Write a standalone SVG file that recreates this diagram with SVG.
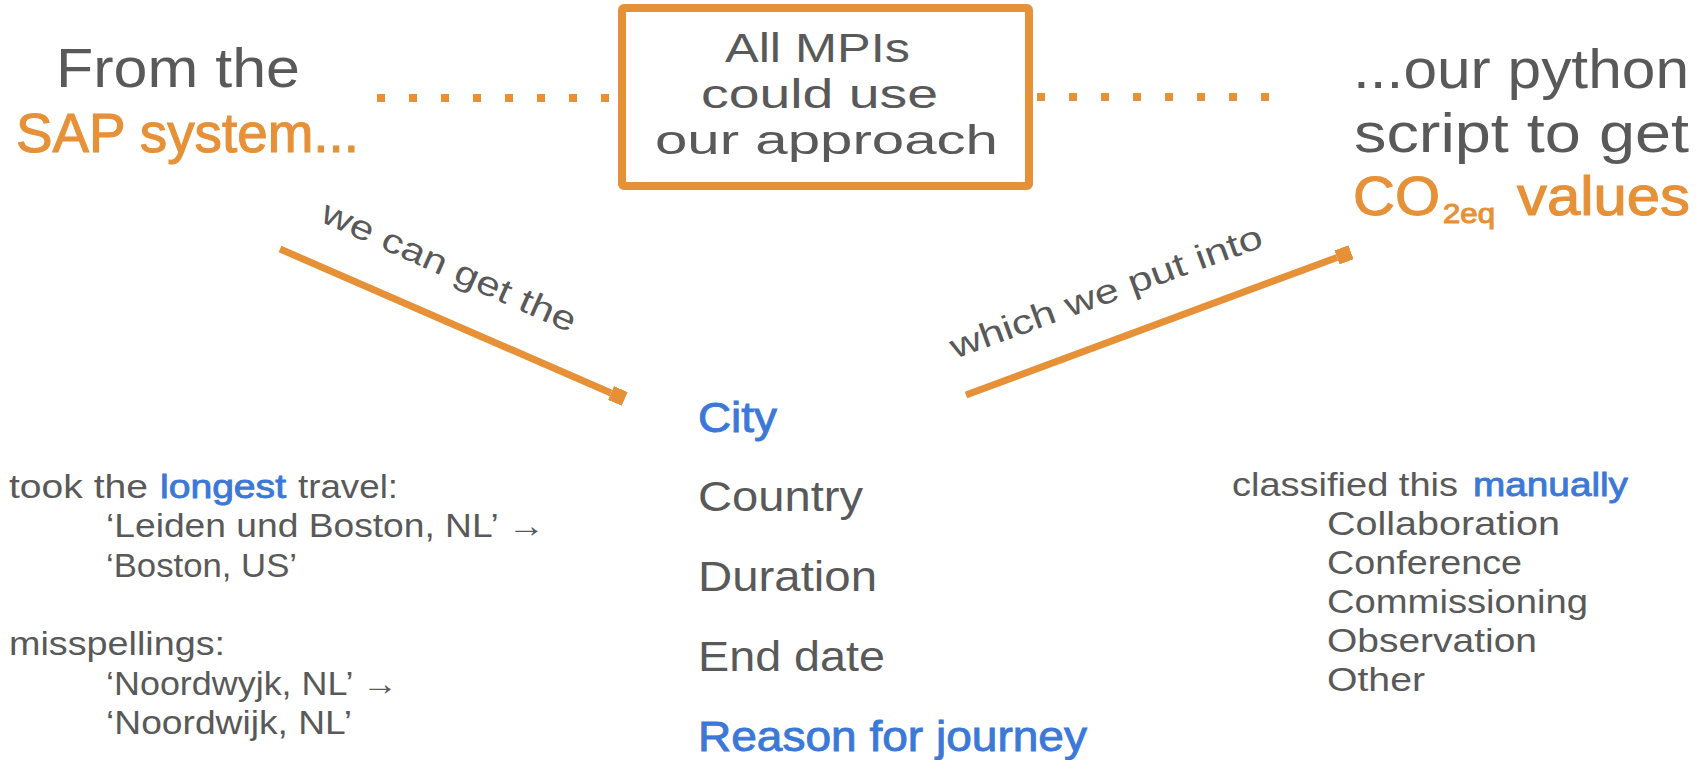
<svg xmlns="http://www.w3.org/2000/svg" width="1705" height="760" viewBox="0 0 1705 760">
  <style>
    text { font-family: "Liberation Sans", Arial, sans-serif; fill: #595959; }
    .big { font-size: 55px; }
    .box { font-size: 41px; }
    .lst { font-size: 42px; }
    .sm { font-size: 34px; }
    .lbl { font-size: 34px; }
    .or { fill: #E69138; stroke: #E69138; stroke-width: 1.1px; }
    .bl { fill: #3C78D8; stroke: #3C78D8; stroke-width: 0.9px; }
    .conn { stroke: #E69138; stroke-width: 7; fill: none; }
    .dots { stroke: #E69138; stroke-width: 8; stroke-dasharray: 8 24; fill: none; }
  </style>
  <defs>
    <marker id="sq" markerUnits="userSpaceOnUse" markerWidth="15" markerHeight="15" viewBox="0 0 15 15" refX="0" refY="7.5" orient="auto">
      <rect x="0" y="0" width="15" height="15" fill="#E69138"/>
    </marker>
  </defs>
  <rect width="1705" height="760" fill="#ffffff"/>

  <g id="connectors">
    <line class="dots" x1="377" y1="98" x2="610" y2="98"/>
    <line class="dots" x1="1037" y1="97" x2="1270" y2="97"/>
    <line class="conn" x1="280" y1="249" x2="611" y2="393" marker-end="url(#sq)"/>
    <line class="conn" x1="966" y1="395" x2="1337" y2="257.5" marker-end="url(#sq)"/>
    <text class="lbl" transform="translate(319 221) rotate(24)" x="0" y="0" textLength="275" lengthAdjust="spacingAndGlyphs">we can get the</text>
    <text class="lbl" transform="translate(955 359) rotate(-20)" x="0" y="0" textLength="330" lengthAdjust="spacingAndGlyphs">which we put into</text>
  </g>

  <g id="source">
    <text class="big" x="56" y="87" textLength="244" lengthAdjust="spacingAndGlyphs">From the</text>
    <text class="big or" x="16" y="152" textLength="343" lengthAdjust="spacingAndGlyphs">SAP system...</text>
  </g>

  <g id="mpi-box">
    <rect x="622" y="8" width="407" height="178" rx="2" fill="none" stroke="#E69138" stroke-width="8"/>
    <text class="box" x="725" y="62" textLength="185" lengthAdjust="spacingAndGlyphs">All MPIs</text>
    <text class="box" x="701" y="108" textLength="237" lengthAdjust="spacingAndGlyphs">could use</text>
    <text class="box" x="655" y="154" textLength="343" lengthAdjust="spacingAndGlyphs">our approach</text>
  </g>

  <g id="target">
    <text class="big" x="1353" y="88" textLength="336" lengthAdjust="spacingAndGlyphs">...our python</text>
    <text class="big" x="1354" y="152" textLength="335" lengthAdjust="spacingAndGlyphs">script to get</text>
    <text class="big or" x="1353" y="215" textLength="87" lengthAdjust="spacingAndGlyphs">CO</text>
    <text class="or" x="1443" y="223" font-size="28" textLength="52" lengthAdjust="spacingAndGlyphs">2eq</text>
    <text class="big or" x="1517" y="215" textLength="173" lengthAdjust="spacingAndGlyphs">values</text>
  </g>

  <g id="fields">
    <text class="lst bl" x="698" y="432" textLength="79" lengthAdjust="spacingAndGlyphs">City</text>
    <text class="lst" x="698" y="511" textLength="165" lengthAdjust="spacingAndGlyphs">Country</text>
    <text class="lst" x="698" y="591" textLength="179" lengthAdjust="spacingAndGlyphs">Duration</text>
    <text class="lst" x="698" y="671" textLength="187" lengthAdjust="spacingAndGlyphs">End date</text>
    <text class="lst bl" x="698" y="751" textLength="389" lengthAdjust="spacingAndGlyphs">Reason for journey</text>
  </g>

  <g id="notes-left">
    <text class="sm" x="9" y="498" textLength="139" lengthAdjust="spacingAndGlyphs">took the</text>
    <text class="sm bl" x="160" y="498" textLength="126" lengthAdjust="spacingAndGlyphs">longest</text>
    <text class="sm" x="298" y="498" textLength="100" lengthAdjust="spacingAndGlyphs">travel:</text>
    <text class="sm" x="106" y="537" textLength="439" lengthAdjust="spacingAndGlyphs">‘Leiden und Boston, NL’ →</text>
    <text class="sm" x="106" y="577" textLength="191" lengthAdjust="spacingAndGlyphs">‘Boston, US’</text>
    <text class="sm" x="9" y="655" textLength="216" lengthAdjust="spacingAndGlyphs">misspellings:</text>
    <text class="sm" x="106" y="695" textLength="292" lengthAdjust="spacingAndGlyphs">‘Noordwyjk, NL’ →</text>
    <text class="sm" x="106" y="734" textLength="246" lengthAdjust="spacingAndGlyphs">‘Noordwijk, NL’</text>
  </g>

  <g id="notes-right">
    <text class="sm" x="1232" y="496" textLength="226" lengthAdjust="spacingAndGlyphs">classified this</text>
    <text class="sm bl" x="1473" y="496" textLength="155" lengthAdjust="spacingAndGlyphs">manually</text>
    <text class="sm" x="1327" y="535" textLength="233" lengthAdjust="spacingAndGlyphs">Collaboration</text>
    <text class="sm" x="1327" y="574" textLength="195" lengthAdjust="spacingAndGlyphs">Conference</text>
    <text class="sm" x="1327" y="613" textLength="261" lengthAdjust="spacingAndGlyphs">Commissioning</text>
    <text class="sm" x="1327" y="652" textLength="210" lengthAdjust="spacingAndGlyphs">Observation</text>
    <text class="sm" x="1327" y="691" textLength="98" lengthAdjust="spacingAndGlyphs">Other</text>
  </g>
</svg>
